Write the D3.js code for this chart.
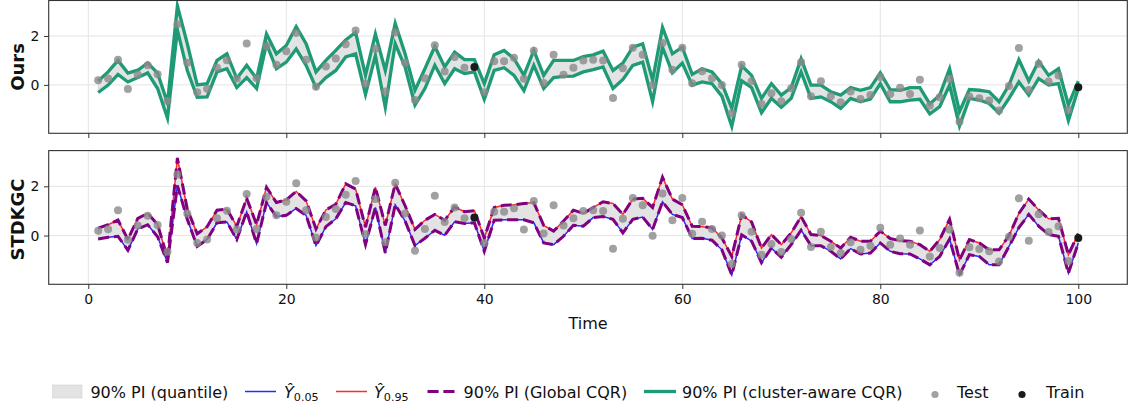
<!DOCTYPE html>
<html>
<head>
<meta charset="utf-8">
<script src="https://cdn.jsdelivr.net/npm/d3@7"></script>
<style>
  html, body { margin: 0; padding: 0; background: #fff; }
  svg { display: block; font-family: "DejaVu Sans", sans-serif; }
</style>
</head>
<body>
<svg id="chart" width="1130" height="408"></svg>
<script>
// ---------------- data ----------------
const times = d3.range(1, 101);
const observed = [0.19,0.26,1.03,-0.17,0.41,0.80,0.43,-0.66,2.48,0.90,
  -0.30,-0.16,0.70,1.01,0.25,1.69,0.27,1.58,0.82,1.37,
  2.12,1.03,-0.08,0.75,1.08,1.66,2.22,0.05,1.48,-0.27,
  2.14,0.90,-0.62,0.27,1.62,0.55,1.14,0.70,0.73,-0.30,
  0.97,0.97,1.11,0.25,1.40,0.08,1.23,0.41,0.70,1.00,
  1.03,1.00,-0.54,0.68,1.52,1.23,-0.01,1.71,0.62,1.52,
  0.07,0.56,0.27,0.00,-1.16,0.82,0.15,-0.78,-0.34,-0.67,
  -0.14,0.93,-0.47,0.15,-0.47,-0.71,-0.27,-0.58,-0.41,0.32,
  -0.37,-0.12,-0.37,0.21,-0.85,-0.51,0.25,-1.51,-0.48,-0.55,
  -0.64,-1.05,-0.05,1.51,-0.21,0.86,0.14,0.38,-1.03,-0.10];
const trainTimes = [39, 100];

// Ours: cluster-aware CQR interval
const oursLo = [-0.31,-0.01,0.43,0.12,0.30,0.49,-0.15,-1.36,2.24,0.59,
  -0.51,-0.49,0.53,0.66,-0.11,0.30,-0.15,1.68,0.66,0.93,
  1.47,0.80,-0.11,0.30,0.59,1.14,1.27,-0.39,1.20,-0.92,
  1.68,0.73,-0.82,-0.15,0.80,0.05,0.66,0.46,0.53,-0.59,
  0.59,0.70,0.39,-0.24,0.80,-0.15,0.30,0.35,0.36,0.53,
  0.62,0.73,-0.15,0.22,0.80,0.93,-0.69,1.54,0.49,0.89,
  -0.01,0.12,0.05,-0.46,-1.70,0.17,-0.11,-1.14,-0.55,-0.92,
  -0.55,0.53,-0.55,-0.49,-0.69,-0.96,-0.55,-0.69,-0.58,0.05,
  -0.69,-0.69,-0.62,-0.59,-1.19,-0.89,-0.01,-1.68,-0.55,-0.62,
  -0.76,-1.16,-0.55,0.12,-0.42,0.26,-0.01,0.05,-1.46,-0.15];
const oursHi = [0.16,0.53,1.00,0.48,0.60,0.90,0.48,-0.74,3.23,1.68,
  0.00,0.05,1.00,1.27,0.26,0.80,0.26,2.08,1.27,1.61,
  2.38,1.68,0.53,1.00,1.41,1.84,2.15,0.39,2.08,0.59,
  2.51,1.27,-0.22,0.66,1.57,0.73,1.34,1.03,1.03,0.05,
  1.23,1.41,1.07,0.39,1.41,0.39,1.00,1.00,1.00,1.16,
  1.23,1.38,0.59,0.89,1.54,1.68,0.19,2.35,1.27,1.54,
  0.43,0.66,0.53,0.05,-0.96,0.78,0.39,-0.55,0.05,-0.42,
  -0.11,1.07,-0.01,-0.01,-0.28,-0.42,-0.11,-0.22,-0.11,0.49,
  -0.19,-0.22,-0.11,-0.11,-0.78,-0.42,0.66,-1.09,-0.19,-0.22,
  -0.28,-0.69,-0.01,1.03,0.16,0.97,0.39,0.66,-0.82,0.15];

// STDKGC: quantile predictions (global CQR drawn on the same bounds)
const stdLo = [-0.14,-0.07,-0.03,-0.60,0.27,0.44,-0.05,-1.10,2.03,0.66,
  -0.44,-0.16,0.52,0.55,-0.16,0.96,-0.33,1.34,0.77,0.82,
  1.10,0.82,-0.41,0.36,0.68,1.34,1.21,-0.37,1.14,-0.71,
  1.25,0.59,-0.41,-0.11,0.21,0.01,0.56,0.49,0.52,-0.64,
  0.62,0.64,0.64,0.64,0.52,-0.30,-0.37,-0.03,0.42,0.38,
  0.73,0.77,0.66,0.11,0.66,0.75,0.25,1.37,0.86,0.73,
  -0.12,-0.11,-0.19,-0.58,-1.60,0.03,-0.23,-1.10,-0.51,-0.88,
  -0.37,0.22,-0.41,-0.41,-0.64,-0.95,-0.53,-0.75,-0.71,-0.30,
  -0.64,-0.74,-0.75,-0.95,-1.19,-0.85,-0.14,-1.60,-0.78,-0.85,
  -1.19,-1.19,-0.44,0.32,0.86,0.38,0.04,-0.03,-1.53,-0.30];
const stdHi = [0.30,0.44,0.63,-0.16,0.70,0.90,0.45,-0.92,3.15,1.07,
  0.07,0.36,1.03,1.07,0.38,1.51,0.45,1.96,1.34,1.45,
  1.79,1.41,0.27,1.04,1.27,2.10,1.89,0.34,1.96,0.41,
  2.10,1.21,0.25,0.62,0.86,0.62,1.16,0.97,1.01,-0.10,
  1.14,1.23,1.25,1.30,1.34,0.41,0.18,0.59,1.03,0.90,
  1.14,1.37,1.30,0.86,1.48,1.51,1.14,2.37,1.48,1.25,
  0.38,0.36,0.32,-0.10,-0.85,0.84,0.55,-0.51,0.04,-0.37,
  0.11,0.77,0.04,0.00,-0.23,-0.51,-0.07,-0.23,-0.23,0.18,
  -0.12,-0.21,-0.23,-0.37,-0.64,-0.16,0.66,-0.99,-0.16,-0.30,
  -0.58,-0.58,0.00,0.90,1.48,1.04,0.68,0.70,-0.78,0.08];

const xTicks = [0, 20, 40, 60, 80, 100];
const yTicks = [0, 2];
const panelLabels = ["Ours", "STDKGC"];

// ---------------- layout ----------------
const svg = d3.select("#chart");
const x = d3.scaleLinear().domain([-4.0, 104.95]).range([48.7, 1127.3]);
const yDomain = [-1.98, 3.45];
const panels = [
  { label: panelLabels[0], y: d3.scaleLinear().domain(yDomain).range([133.3, 0.5]), kind: "ours", labelY: 67 },
  { label: panelLabels[1], y: d3.scaleLinear().domain(yDomain).range([284.3, 150.6]), kind: "std", labelY: 219.5 }
];

const C = {
  fill: "#e3e3e3", green: "#1f9a76", purple: "#800080",
  blue: "#2a2aff", red: "#ff2a2a", test: "#8a8a8a", train: "#1a1a1a",
  grid: "#e4e4e4", frame: "#333333"
};
const TICK = 4.7;

panels.forEach((p, pi) => {
  const y = p.y;
  const top = y.range()[1], bot = y.range()[0];
  const L = x.range()[0], R = x.range()[1];
  const g = svg.append("g");
  const clipId = "clip" + pi;
  svg.append("clipPath").attr("id", clipId).append("rect")
    .attr("x", L).attr("y", top).attr("width", R - L).attr("height", bot - top);

  // grid
  g.selectAll(".gx").data(xTicks).enter().append("line")
    .attr("x1", d => x(d)).attr("x2", d => x(d)).attr("y1", top).attr("y2", bot)
    .attr("stroke", C.grid).attr("stroke-width", 1);
  g.selectAll(".gy").data(yTicks).enter().append("line")
    .attr("x1", L).attr("x2", R).attr("y1", d => y(d)).attr("y2", d => y(d))
    .attr("stroke", C.grid).attr("stroke-width", 1);

  const plot = g.append("g").attr("clip-path", `url(#${clipId})`);
  const lo = p.kind === "ours" ? oursLo : stdLo;
  const hi = p.kind === "ours" ? oursHi : stdHi;

  const area = d3.area().x((d, i) => x(times[i])).y0((d, i) => y(lo[i])).y1((d, i) => y(hi[i]));
  plot.append("path").datum(times).attr("d", area)
    .attr("fill", C.fill).attr("stroke", "#cfcfcf").attr("stroke-width", 0.6);

  const line = arr => d3.line().x((d, i) => x(times[i])).y((d, i) => y(arr[i]))(times);

  if (p.kind === "ours") {
    [lo, hi].forEach(arr => plot.append("path").attr("d", line(arr))
      .attr("fill", "none").attr("stroke", C.green).attr("stroke-width", 3.3)
      .attr("stroke-linejoin", "miter").attr("stroke-miterlimit", 10));
  } else {
    plot.append("path").attr("d", line(lo)).attr("fill", "none").attr("stroke", C.blue).attr("stroke-width", 1.5);
    plot.append("path").attr("d", line(hi)).attr("fill", "none").attr("stroke", C.red).attr("stroke-width", 1.5);
    [lo, hi].forEach(arr => plot.append("path").attr("d", line(arr))
      .attr("fill", "none").attr("stroke", C.purple).attr("stroke-width", 3)
      .attr("stroke-dasharray", "11.1,4.8"));
  }

  // points
  const pts = times.map((t, i) => ({ t, v: observed[i], train: trainTimes.includes(t) }));
  plot.selectAll(".pt").data(pts.filter(d => !d.train)).enter().append("circle")
    .attr("cx", d => x(d.t)).attr("cy", d => y(d.v)).attr("r", 4)
    .attr("fill", C.test).attr("fill-opacity", 0.8);
  plot.selectAll(".tr").data(pts.filter(d => d.train)).enter().append("circle")
    .attr("cx", d => x(d.t)).attr("cy", d => y(d.v)).attr("r", 4)
    .attr("fill", C.train);

  // frame
  g.append("rect").attr("x", L).attr("y", top).attr("width", R - L).attr("height", bot - top)
    .attr("fill", "none").attr("stroke", C.frame).attr("stroke-width", 1.1);

  // axes ticks
  const xAxis = d3.axisBottom(x).tickValues(xTicks).tickSize(TICK).tickPadding(TICK)
    .tickFormat(pi === 1 ? d3.format("d") : () => "");
  const ax = g.append("g").attr("transform", `translate(0,${bot})`).call(xAxis);
  ax.select(".domain").remove();
  ax.selectAll("line").attr("stroke", C.frame);
  ax.selectAll("text").attr("font-size", 14).attr("fill", "#111").attr("font-family", "DejaVu Sans");

  const yAxis = d3.axisLeft(y).tickValues(yTicks).tickSize(TICK).tickPadding(TICK).tickFormat(d3.format("d"));
  const ay = g.append("g").attr("transform", `translate(${L},0)`).call(yAxis);
  ay.select(".domain").remove();
  ay.selectAll("line").attr("stroke", C.frame);
  ay.selectAll("text").attr("font-size", 14).attr("fill", "#111").attr("font-family", "DejaVu Sans");

  // panel label
  svg.append("text").attr("transform", `translate(23.5,${p.labelY}) rotate(-90)`)
    .attr("text-anchor", "middle").attr("font-size", 18).attr("font-weight", "bold")
    .attr("fill", "#111").text(p.label);
});

// x-axis label
svg.append("text").attr("x", 588).attr("y", 329)
  .attr("text-anchor", "middle").attr("font-size", 16).attr("fill", "#111").text("Time");

// ---------------- legend ----------------
const lg = svg.append("g").attr("font-size", 16).attr("fill", "#111");
const ly = 391.5, tb = 398.3, dotY = 394.5;
// quantile patch
lg.append("rect").attr("x", 52.5).attr("y", 385).attr("width", 29.5).attr("height", 13)
  .attr("fill", C.fill).attr("stroke", "#d0d0d0").attr("stroke-width", 0.6);
lg.append("text").attr("x", 90.4).attr("y", tb).text("90% PI (quantile)");
// blue
lg.append("line").attr("x1", 245).attr("x2", 276).attr("y1", ly).attr("y2", ly).attr("stroke", C.blue).attr("stroke-width", 1.5);
const t1 = lg.append("text").attr("x", 284).attr("y", tb);
t1.append("tspan").attr("font-style", "italic").text("Ŷ");
t1.append("tspan").attr("font-size", 11.2).attr("dy", 2.5).text("0.05");
// red
lg.append("line").attr("x1", 336).attr("x2", 367).attr("y1", ly).attr("y2", ly).attr("stroke", C.red).attr("stroke-width", 1.5);
const t2 = lg.append("text").attr("x", 374).attr("y", tb);
t2.append("tspan").attr("font-style", "italic").text("Ŷ");
t2.append("tspan").attr("font-size", 11.2).attr("dy", 2.5).text("0.95");
// purple dashed
lg.append("line").attr("x1", 427.5).attr("x2", 455).attr("y1", ly).attr("y2", ly)
  .attr("stroke", C.purple).attr("stroke-width", 3).attr("stroke-dasharray", "11.1,4.8");
lg.append("text").attr("x", 463.6).attr("y", tb).text("90% PI (Global CQR)");
// green
lg.append("line").attr("x1", 644).attr("x2", 676).attr("y1", ly).attr("y2", ly).attr("stroke", C.green).attr("stroke-width", 3.3);
lg.append("text").attr("x", 682).attr("y", tb).text("90% PI (cluster-aware CQR)");
// test
lg.append("circle").attr("cx", 935).attr("cy", dotY).attr("r", 3.6).attr("fill", C.test).attr("fill-opacity", 0.8);
lg.append("text").attr("x", 957).attr("y", tb).text("Test");
// train
lg.append("circle").attr("cx", 1022).attr("cy", dotY).attr("r", 3.6).attr("fill", C.train);
lg.append("text").attr("x", 1046).attr("y", tb).text("Train");
</script>
</body>
</html>
